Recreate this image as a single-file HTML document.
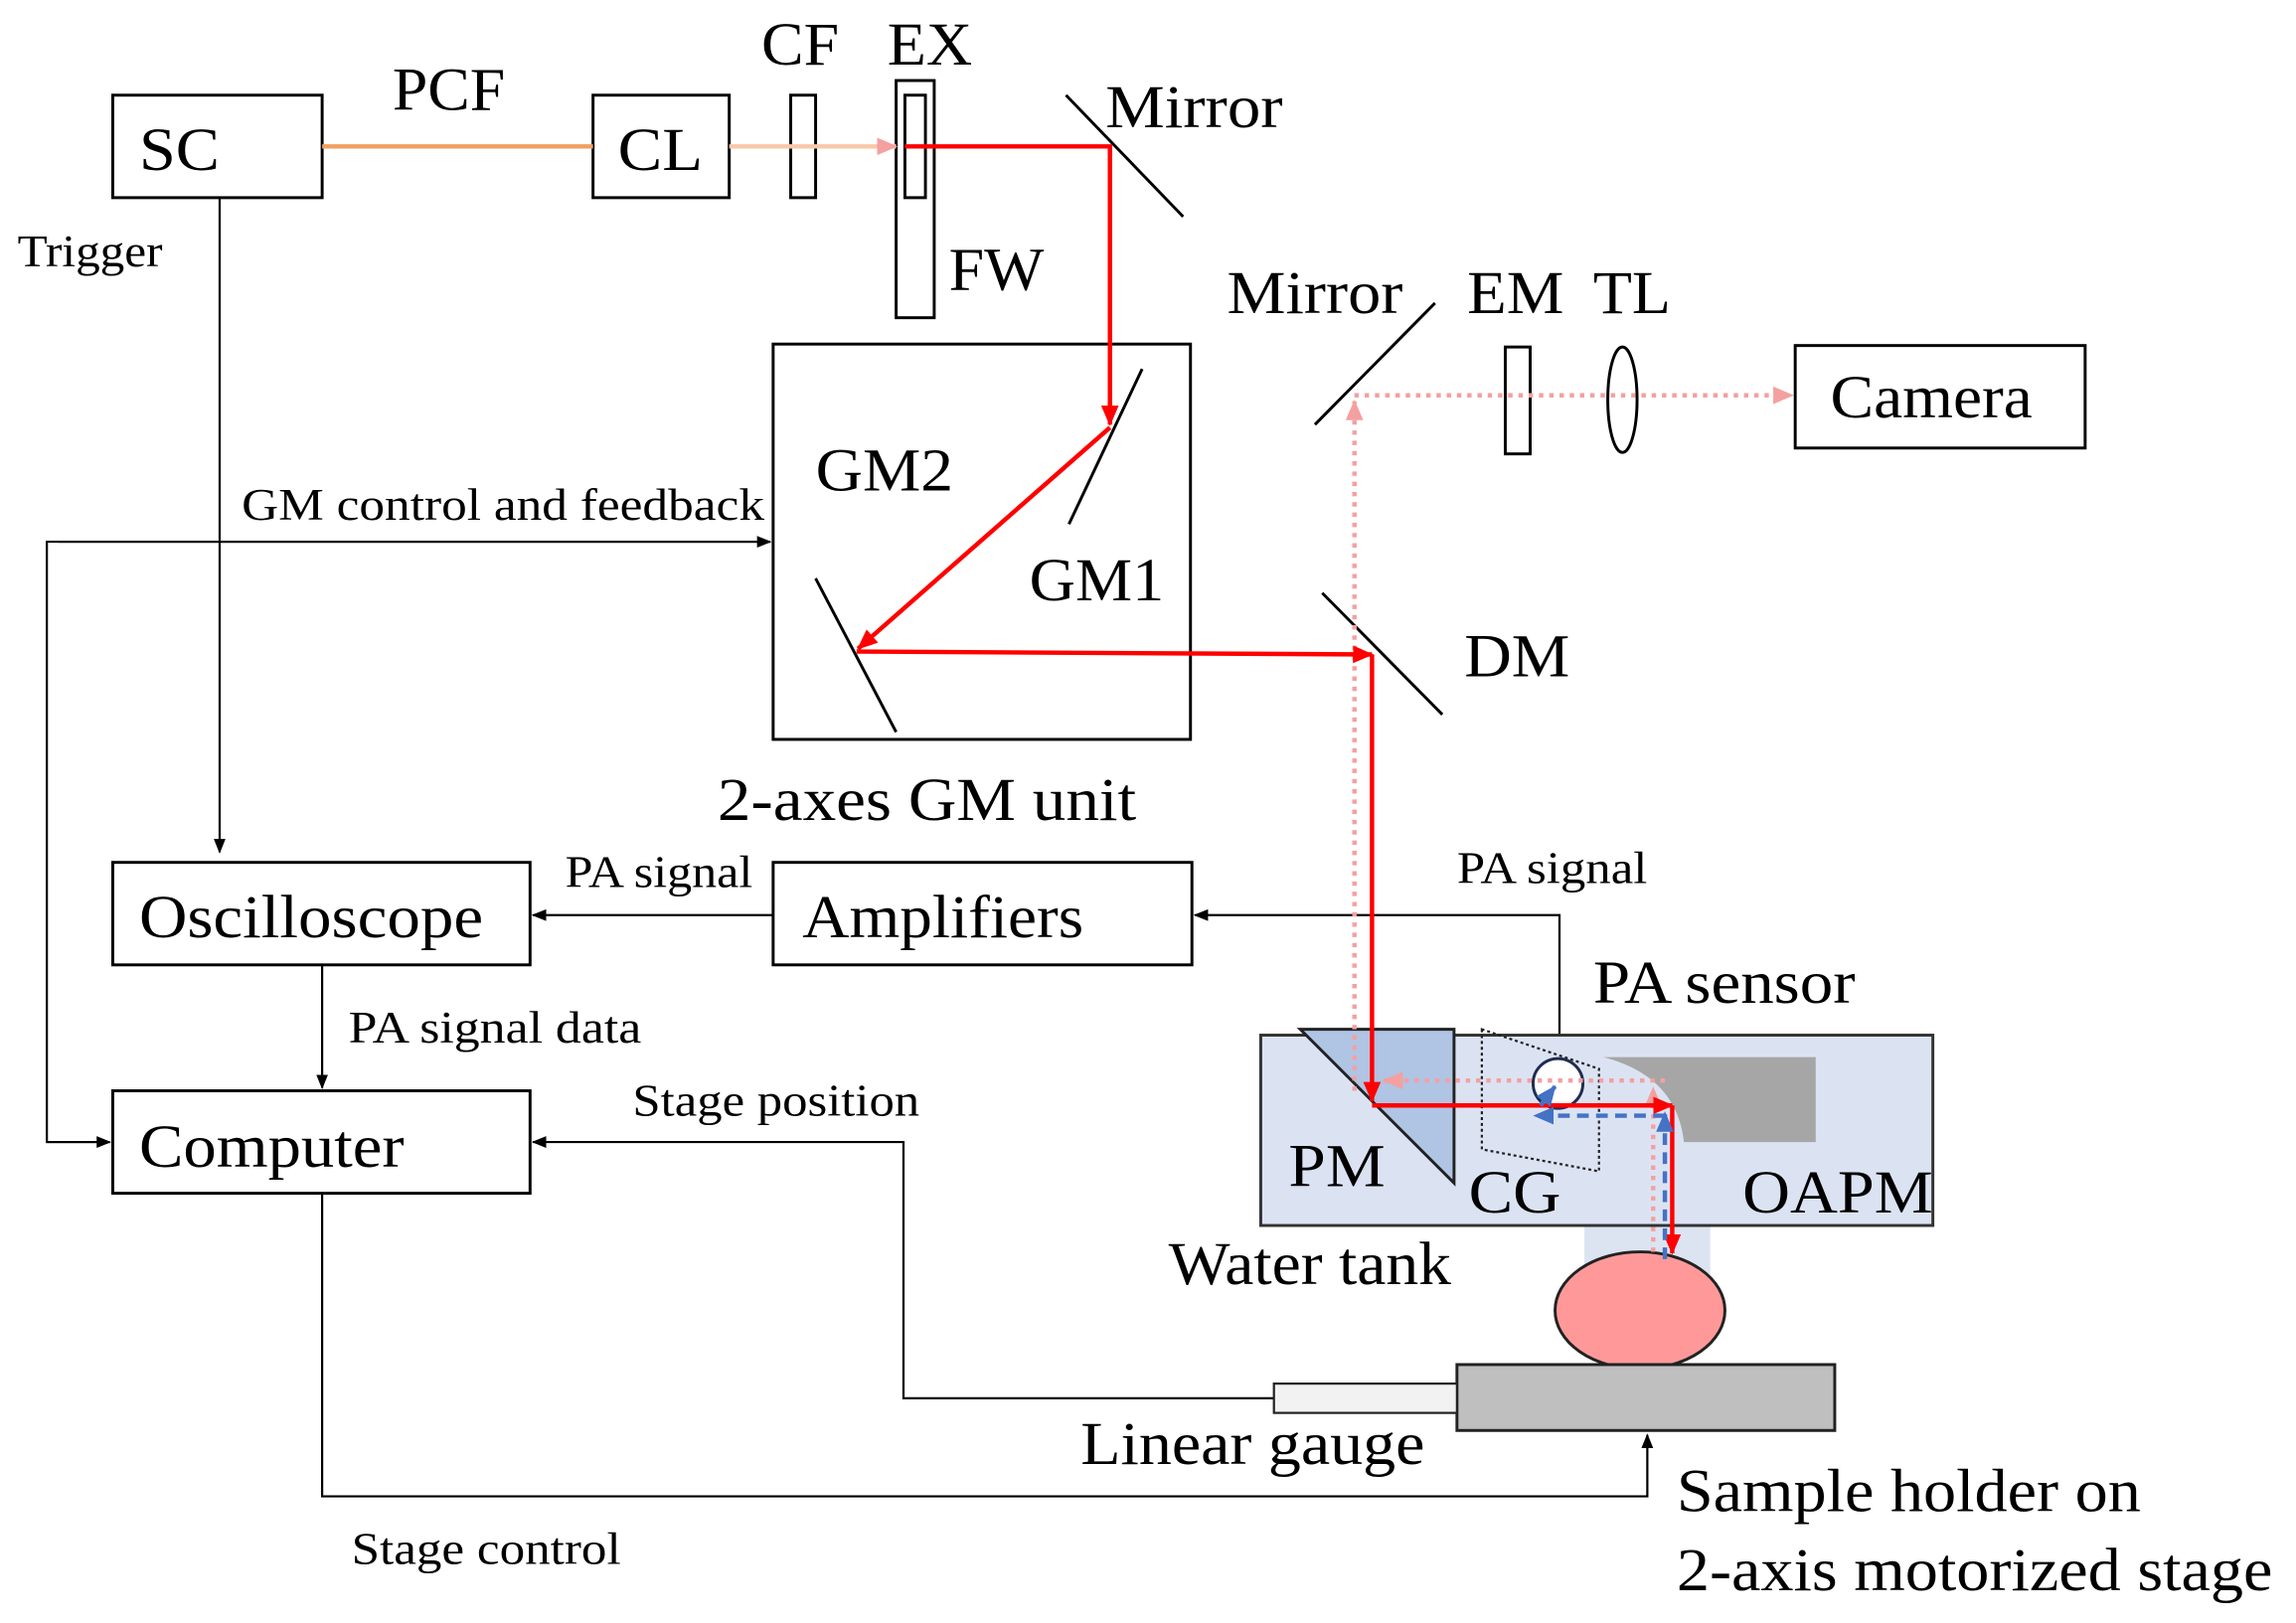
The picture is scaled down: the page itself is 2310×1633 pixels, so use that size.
<!DOCTYPE html>
<html><head><meta charset="utf-8"><style>html,body{margin:0;padding:0;background:#fff}svg{display:block}text{font-family:"Liberation Serif",serif;fill:#000}</style></head><body>
<svg width="2310" height="1633" viewBox="0 0 1568 1108.5" preserveAspectRatio="none" xmlns="http://www.w3.org/2000/svg">
<defs>
<marker id="ab" markerWidth="10" markerHeight="10" refX="9" refY="5" orient="auto" markerUnits="userSpaceOnUse"><path d="M0,1 L10,5 L0,9 z" fill="#000"/></marker>
<marker id="ar" markerWidth="14" markerHeight="14" refX="13" refY="7" orient="auto" markerUnits="userSpaceOnUse"><path d="M0,1 L14,7 L0,13 z" fill="#f00"/></marker>
<marker id="ap" markerWidth="14" markerHeight="14" refX="13" refY="7" orient="auto" markerUnits="userSpaceOnUse"><path d="M0,1 L14,7 L0,13 z" fill="#f4a0a0"/></marker>
<marker id="abl" markerWidth="14" markerHeight="14" refX="13" refY="7" orient="auto" markerUnits="userSpaceOnUse"><path d="M0,1 L14,7 L0,13 z" fill="#4472c4"/></marker>
</defs>
<g fill="none" stroke="#000" stroke-width="2">
<rect x="77" y="65" width="143" height="70"/>
<rect x="405" y="65" width="93" height="70"/>
<rect x="540" y="65" width="17" height="70"/>
<rect x="612" y="55" width="26" height="162"/>
<rect x="618" y="65" width="14" height="70"/>
<rect x="528" y="235" width="285" height="270"/>
<rect x="1226" y="236" width="198" height="70"/>
<rect x="1028" y="237" width="17" height="73"/>
<ellipse cx="1108" cy="273" rx="10" ry="36"/>
<rect x="77" y="589" width="285" height="70"/>
<rect x="528" y="589" width="286" height="70"/>
<rect x="77" y="745" width="285" height="70"/>
<line x1="728" y1="65" x2="808" y2="148"/>
<line x1="730" y1="358" x2="780" y2="252"/>
<line x1="557" y1="395" x2="612" y2="500"/>
<line x1="903" y1="405" x2="985" y2="488"/>
<line x1="898" y1="290" x2="980" y2="207"/>
</g>
<g fill="none" stroke="#000" stroke-width="1.5">
<line x1="150" y1="135" x2="150" y2="582" marker-end="url(#ab)"/>
<polyline points="526,370 32,370 32,780 75,780"/>
<line x1="40" y1="370" x2="526" y2="370" marker-end="url(#ab)"/>
<line x1="32" y1="780" x2="75" y2="780" marker-end="url(#ab)"/>
<line x1="528" y1="625" x2="364" y2="625" marker-end="url(#ab)"/>
<polyline points="1065,735 1065,625 816,625" marker-end="url(#ab)"/>
<line x1="220" y1="659" x2="220" y2="743" marker-end="url(#ab)"/>
<polyline points="870,955 617,955 617,780 364,780" marker-end="url(#ab)"/>
<polyline points="220,815 220,1022 1125,1022 1125,980" marker-end="url(#ab)"/>
</g>
<line x1="220" y1="100" x2="405" y2="100" stroke="#f0a060" stroke-width="3"/>
<line x1="498" y1="100" x2="612" y2="100" stroke="#f8c8a8" stroke-width="3" marker-end="url(#ap)"/>
<rect x="1082" y="837" width="86" height="60" fill="#dce4f2"/>
<rect x="861" y="707" width="459" height="130" fill="#dbe3f3" stroke="#333" stroke-width="2"/>
<path d="M888,703 L993,703 L993,808 Z" fill="#b0c4e4" stroke="#222" stroke-width="2"/>
<path d="M1095,722 L1240,722 L1240,780 L1150,780 Q1145,735 1095,722 Z" fill="#a6a6a6"/>
<path d="M1012,703 L1012,785 L1092,800 L1092,730 Z" fill="none" stroke="#222" stroke-width="1.5" stroke-dasharray="2,2"/>
<circle cx="1064" cy="740" r="17" fill="#fff" stroke="#1f2d50" stroke-width="2"/>
<ellipse cx="1120" cy="895" rx="58" ry="40" fill="#ff9999" stroke="#222" stroke-width="2"/>
<rect x="995" y="932" width="258" height="45" fill="#bfbfbf" stroke="#222" stroke-width="2"/>
<rect x="870" y="945" width="125" height="20" fill="#f2f2f2" stroke="#222" stroke-width="1.5"/>
<g stroke="#f4a0a0" stroke-width="3" stroke-dasharray="3,4" fill="none">
<line x1="925" y1="745" x2="925" y2="274" marker-end="url(#ap)"/>
<line x1="925" y1="270" x2="1224" y2="270" marker-end="url(#ap)"/>
<line x1="1137" y1="738" x2="945" y2="738" marker-end="url(#ap)"/>
<line x1="1129" y1="855" x2="1129" y2="743" marker-end="url(#ap)"/>
</g>
<g stroke="#f00" stroke-width="3" fill="none">
<polyline points="618,100 758,100 758,290" marker-end="url(#ar)"/>
<line x1="758" y1="292" x2="586" y2="443" marker-end="url(#ar)"/>
<line x1="585" y1="445" x2="937" y2="447" marker-end="url(#ar)"/>
<line x1="937" y1="447" x2="937" y2="752" marker-end="url(#ar)"/>
<line x1="937" y1="755" x2="1142" y2="755" marker-end="url(#ar)"/>
<line x1="1142" y1="755" x2="1142" y2="856" marker-end="url(#ar)"/>
</g>
<g stroke="#4472c4" stroke-width="3" stroke-dasharray="8,5" fill="none">
<line x1="1137" y1="860" x2="1137" y2="760" marker-end="url(#abl)"/>
<line x1="1137" y1="762" x2="1048" y2="762" marker-end="url(#abl)"/>
<line x1="1052" y1="755" x2="1062" y2="742" marker-end="url(#abl)"/>
</g>
<g font-size="42">
<text x="95" y="116" textLength="55" lengthAdjust="spacingAndGlyphs">SC</text>
<text x="268" y="75" textLength="77" lengthAdjust="spacingAndGlyphs">PCF</text>
<text x="422" y="116" textLength="58" lengthAdjust="spacingAndGlyphs">CL</text>
<text x="520" y="44" textLength="53" lengthAdjust="spacingAndGlyphs">CF</text>
<text x="606" y="44" textLength="58" lengthAdjust="spacingAndGlyphs">EX</text>
<text x="755" y="87" textLength="121" lengthAdjust="spacingAndGlyphs">Mirror</text>
<text x="648" y="198" textLength="65" lengthAdjust="spacingAndGlyphs">FW</text>
<text x="838" y="214" textLength="120" lengthAdjust="spacingAndGlyphs">Mirror</text>
<text x="1002" y="214" textLength="66" lengthAdjust="spacingAndGlyphs">EM</text>
<text x="1088" y="214" textLength="53" lengthAdjust="spacingAndGlyphs">TL</text>
<text x="1250" y="285" textLength="138" lengthAdjust="spacingAndGlyphs">Camera</text>
<text x="557" y="335" textLength="94" lengthAdjust="spacingAndGlyphs">GM2</text>
<text x="703" y="410" textLength="92" lengthAdjust="spacingAndGlyphs">GM1</text>
<text x="1000" y="462" textLength="72" lengthAdjust="spacingAndGlyphs">DM</text>
<text x="490" y="560" textLength="286" lengthAdjust="spacingAndGlyphs">2-axes GM unit</text>
<text x="95" y="640" textLength="235" lengthAdjust="spacingAndGlyphs">Oscilloscope</text>
<text x="548" y="640" textLength="192" lengthAdjust="spacingAndGlyphs">Amplifiers</text>
<text x="1088" y="685" textLength="179" lengthAdjust="spacingAndGlyphs">PA sensor</text>
<text x="95" y="797" textLength="181" lengthAdjust="spacingAndGlyphs">Computer</text>
<text x="880" y="810" textLength="66" lengthAdjust="spacingAndGlyphs">PM</text>
<text x="1003" y="828" textLength="63" lengthAdjust="spacingAndGlyphs">CG</text>
<text x="1190" y="828" textLength="130" lengthAdjust="spacingAndGlyphs">OAPM</text>
<text x="798" y="877" textLength="193" lengthAdjust="spacingAndGlyphs">Water tank</text>
<text x="738" y="1000" textLength="235" lengthAdjust="spacingAndGlyphs">Linear gauge</text>
<text x="1145" y="1032" textLength="317" lengthAdjust="spacingAndGlyphs">Sample holder on</text>
<text x="1145" y="1086" textLength="407" lengthAdjust="spacingAndGlyphs">2-axis motorized stage</text>
</g>
<g font-size="31">
<text x="12" y="182" textLength="99" lengthAdjust="spacingAndGlyphs">Trigger</text>
<text x="165" y="355" textLength="357" lengthAdjust="spacingAndGlyphs">GM control and feedback</text>
<text x="386" y="606" textLength="128" lengthAdjust="spacingAndGlyphs">PA signal</text>
<text x="995" y="603" textLength="130" lengthAdjust="spacingAndGlyphs">PA signal</text>
<text x="238" y="712" textLength="200" lengthAdjust="spacingAndGlyphs">PA signal data</text>
<text x="432" y="762" textLength="196" lengthAdjust="spacingAndGlyphs">Stage position</text>
<text x="240" y="1068" textLength="184" lengthAdjust="spacingAndGlyphs">Stage control</text>
</g>
</svg>
</body></html>
